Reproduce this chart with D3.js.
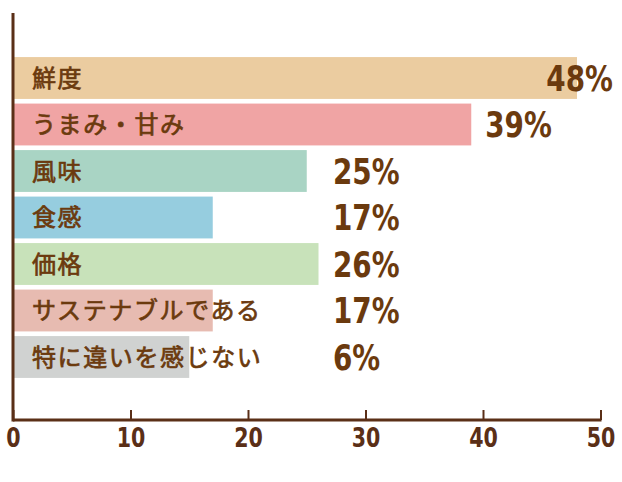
<!DOCTYPE html>
<html>
<head>
<meta charset="utf-8">
<script src="https://cdn.jsdelivr.net/npm/d3@7"></script>
<style>
  html, body { margin: 0; padding: 0; background: #fff; }
  svg { display: block; }
</style>
</head>
<body>
<div id="grafiek"></div>
<script>
// Data van de grafiek
const categories = ['鮮度', 'うまみ・甘み', '風味', '食感', '価格', 'サステナブルである', '特に違いを感じない'];
const values = [48, 39, 25, 17, 26, 17, 15];
const pctLabels = ['48%', '39%', '25%', '17%', '26%', '17%', '6%'];
const barColors = ['#ebcca0', '#f0a4a4', '#a9d4c4', '#96cddf', '#c8e2ba', '#e7bbb1', '#d0d2d1'];
const xTicks = [0, 10, 20, 30, 40, 50];

const width = 622, height = 482;
const axisColor = '#5a2f17';
const textColor = '#6b3a0e';
const numFont = '"DejaVu Sans Condensed", "DejaVu Sans", sans-serif';
const pctSqueeze = 0.86; // smalle cijfers, zoals in het origineel
const tickSqueeze = 0.88;

const svg = d3.select('#grafiek')
  .append('svg')
  .attr('width', width)
  .attr('height', height);

const x = d3.scaleLinear()
  .domain([0, 50])
  .range([13, 600.5]);

const y = d3.scaleBand()
  .domain(categories)
  .range([54.75, 380.25])
  .paddingInner(0.1)
  .paddingOuter(0.05);

// balken
svg.append('g')
  .selectAll('rect')
  .data(categories)
  .enter()
  .append('rect')
    .attr('x', x(0))
    .attr('y', d => y(d))
    .attr('width', (d, i) => x(values[i]) - x(0))
    .attr('height', y.bandwidth())
    .style('fill', (d, i) => barColors[i]);

// categorie labels (regular + dunne rand = medium gewicht)
svg.append('g')
  .selectAll('text')
  .data(categories)
  .enter()
  .append('text')
    .attr('x', 32)
    .attr('y', d => y(d) + y.bandwidth() / 2)
    .attr('dy', '0.36em')
    .style('font-family', '"Noto Sans CJK JP", "Noto Sans", sans-serif')
    .style('font-weight', 400)
    .style('font-size', '24px')
    .style('letter-spacing', '1.6px')
    .style('fill', textColor)
    .style('stroke', textColor)
    .style('stroke-width', 0.7)
    .text(d => d);

// percentages
const pct = svg.append('g')
  .selectAll('g')
  .data(categories)
  .enter()
  .append('g');

pct.append('text')
    .attr('dy', '0.36em')
    .style('font-family', numFont)
    .style('font-weight', 700)
    .style('font-size', '36px')
    .style('fill', textColor)
    .text((d, i) => pctLabels[i]);

pct.each(function(d, i) {
  const w = d3.select(this).select('text').node().getComputedTextLength() * pctSqueeze;
  let px = Math.max(x(values[i]) + 14, 333);
  if (px + w > 613) px = 613 - w;
  d3.select(this).attr('transform', `translate(${px}, ${y(d) + y.bandwidth() / 2}) scale(${pctSqueeze}, 1)`);
});

// x-as
const xAxis = svg.append('g')
  .attr('transform', `translate(0, 420)`)
  .call(d3.axisBottom(x).tickValues(xTicks).tickSize(-10).tickPadding(8).tickFormat(d3.format('d')));
xAxis.select('.domain').attr('d', `M${x(0)},0H${x(50) + 1}`).attr('stroke', axisColor).attr('stroke-width', 3);
xAxis.selectAll('.tick line').attr('stroke', axisColor).attr('stroke-width', 2);
xAxis.selectAll('.tick text')
  .attr('y', 9)
  .attr('dy', '0.71em')
  .attr('transform', `scale(${tickSqueeze}, 1)`)
  .style('font-family', numFont)
  .style('font-weight', 700)
  .style('font-size', '26px')
  .style('fill', axisColor);

// y-as
svg.append('line')
  .attr('x1', x(0)).attr('x2', x(0))
  .attr('y1', 13).attr('y2', 421.5)
  .attr('stroke', axisColor)
  .attr('stroke-width', 3);
</script>
</body>
</html>
